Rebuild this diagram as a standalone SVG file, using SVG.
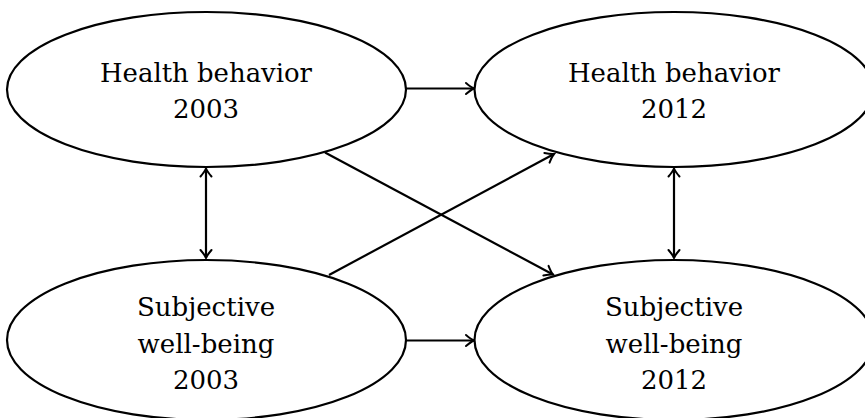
<svg xmlns="http://www.w3.org/2000/svg" width="865" height="418" viewBox="0 0 865 418">
<style>
.node ellipse{fill:#fff;stroke:#000;stroke-width:2.2}
.node text{font-family:"DejaVu Serif","Liberation Serif",serif;font-size:26px;fill:#000;text-anchor:middle}
.edges line{stroke:#000;stroke-width:2.2}
</style>
<defs>
<marker id="arr" markerUnits="userSpaceOnUse" markerWidth="20" markerHeight="20" viewBox="-10 -10 20 20" refX="0" refY="0" orient="auto-start-reverse">
<path d="M-8,-5.5 Q-3,-1.2 0,0 Q-3,1.2 -8,5.5" fill="none" stroke="#000" stroke-width="2" stroke-linecap="round"/>
</marker>
</defs>
<rect width="865" height="418" fill="#fff"/>
<g class="edges">
<line x1="406" y1="88.5" x2="474" y2="88.5" marker-end="url(#arr)"/>
<line x1="406" y1="340.5" x2="474" y2="340.5" marker-end="url(#arr)"/>
<line x1="206" y1="168.5" x2="206" y2="258" marker-start="url(#arr)" marker-end="url(#arr)"/>
<line x1="674" y1="168.5" x2="674" y2="258" marker-start="url(#arr)" marker-end="url(#arr)"/>
<line x1="325" y1="152.5" x2="553" y2="274.5" marker-end="url(#arr)"/>
<line x1="329" y1="275" x2="554" y2="154" marker-end="url(#arr)"/>
</g>
<g id="hb2003" class="node">
<ellipse cx="206.5" cy="89.5" rx="199.5" ry="77.5"/>
<text x="206" y="82" textLength="212" lengthAdjust="spacingAndGlyphs">Health behavior</text>
<text x="206" y="118">2003</text>
</g>
<g id="hb2012" class="node">
<ellipse cx="674" cy="89.5" rx="199.5" ry="77.5"/>
<text x="674" y="82" textLength="212" lengthAdjust="spacingAndGlyphs">Health behavior</text>
<text x="674" y="118">2012</text>
</g>
<g id="swb2003" class="node">
<ellipse cx="206.5" cy="340" rx="199.5" ry="80"/>
<text x="206" y="315.5">Subjective</text>
<text x="206" y="353">well-being</text>
<text x="206" y="388.5">2003</text>
</g>
<g id="swb2012" class="node">
<ellipse cx="674" cy="340" rx="199.5" ry="80"/>
<text x="674" y="315.5">Subjective</text>
<text x="674" y="353">well-being</text>
<text x="674" y="388.5">2012</text>
</g>
</svg>
